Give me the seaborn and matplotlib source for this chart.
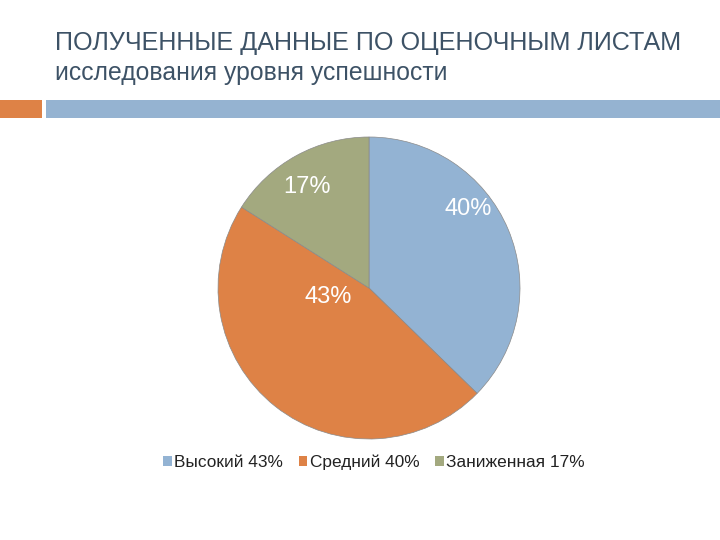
import matplotlib
matplotlib.use("Agg")
import matplotlib.pyplot as plt
import seaborn as sns
from matplotlib.patches import Rectangle, Patch

sns.set_theme(style="white")
plt.rcParams['font.family'] = ['Liberation Sans', 'DejaVu Sans']

title = "ПОЛУЧЕННЫЕ ДАННЫЕ ПО ОЦЕНОЧНЫМ ЛИСТАМ"
subtitle = "исследования уровня успешности"
categories = ["Высокий 43%", "Средний 40%", "Заниженная 17%"]
# slice sizes as drawn in the picture (angles)
values = [37.3, 46.7, 16.0]
slice_labels = ["40%", "43%", "17%"]
colors = ["#93B3D3", "#DE8246", "#A3A97F"]

fig = plt.figure(figsize=(7.2, 5.4), dpi=100)
fig.patch.set_facecolor("white")

# decorative bars
fig.patches.append(Rectangle((0, 1 - 118/540), 42/720, 18/540, transform=fig.transFigure,
                             facecolor="#DE8246", edgecolor="none"))
fig.patches.append(Rectangle((46/720, 1 - 118/540), 1 - 46/720, 18/540, transform=fig.transFigure,
                             facecolor="#95B3D1", edgecolor="none"))

fig.text(55/720, 1 - 43/540, title, fontsize=18.1, color="#3D5266", va="center", ha="left")
fig.text(55/720, 1 - 73/540, subtitle, fontsize=17.8, color="#3D5266", va="center", ha="left")

ax = fig.add_axes([(369-151)/720, (540-439)/540, 302/720, 302/540])
wedges, _ = ax.pie(values, colors=colors, startangle=90, counterclock=False,
                   wedgeprops=dict(edgecolor="#8a8a8a", linewidth=0.5))
for w in wedges:
    w.set_clip_on(False)
ax.set_xlim(-1.0, 1.0)
ax.set_ylim(-1.0, 1.0)
ax.set_aspect("equal")

label_pos = [(0.66, 0.52), (-0.27, -0.06), (-0.41, 0.67)]
for (x, y), t in zip(label_pos, slice_labels):
    ax.text(x, y, t, ha="center", va="center", color="white", fontsize=17)

handles = [Patch(facecolor=c, edgecolor="none") for c in colors]
fig.legend(handles, categories, loc="center", bbox_to_anchor=(374/720, 1 - 462/540),
           ncol=3, frameon=False, fontsize=12.4, handlelength=0.5, handleheight=0.5,
           handletextpad=0.15, columnspacing=0.9, labelcolor="#222222")

fig.savefig("out.png", dpi=100, facecolor="white")
